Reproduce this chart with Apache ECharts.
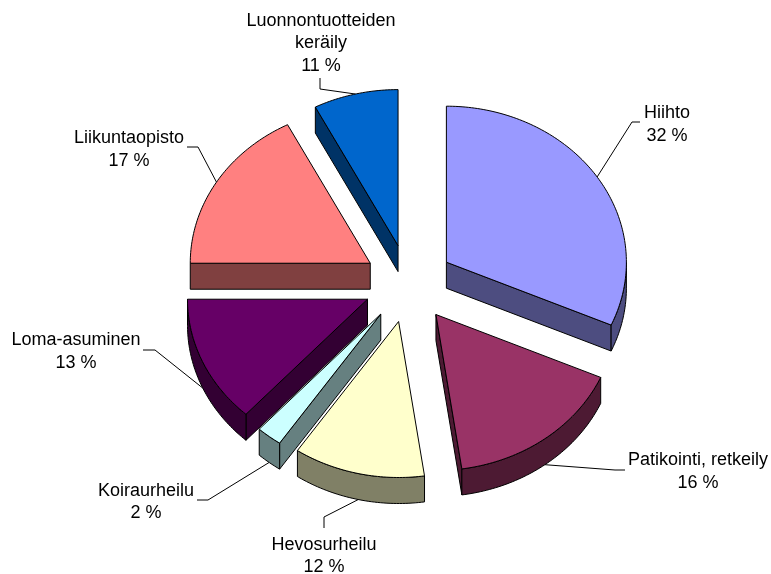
<!DOCTYPE html>
<html>
<head>
<meta charset="utf-8">
<style>html,body{margin:0;padding:0;background:#fff}#c{width:771px;height:574px}</style>
<script src="https://cdn.jsdelivr.net/npm/echarts@6/dist/echarts.min.js"></script>
</head>
<body>
<div id="c"></div>
<script>
// Data
var categories = ['Hiihto', 'Patikointi, retkeily', 'Hevosurheilu', 'Koiraurheilu', 'Loma-asuminen', 'Liikuntaopisto', 'Luonnontuotteiden\nkeräily'];
var sliceValues = [31.6, 16.1, 11.8, 2.3, 13.2, 17.4, 7.6];
var labelPercents = [32, 16, 12, 2, 13, 17, 11];

// Styles
var topColors = ['#9999FF', '#993366', '#FFFFCC', '#CCFFFF', '#660066', '#FF8080', '#0066CC'];
var sideColors = ['#4D4D80', '#4D1A33', '#808066', '#668080', '#330033', '#804040', '#003366'];
var paintOrder = [6, 5, 0, 1, 3, 4, 2];

// Layout
var layout = { cx: 408.7, cy: 283.5, rx: 180, ry: 156, explodeX: 45, explodeY: 39, depth: 26 };
var labelCenters = [[667, 124.5], [698, 471.5], [324, 556], [146, 502], [76, 351.5], [129, 149.5], [321, 43.5]];
var leaderElbows = [
  [[632, 122], [640, 122]],
  [[615, 470], [625, 470]],
  [[324, 517], [324, 528]],
  [[208, 500], [197, 500]],
  [[155, 350], [143, 350]],
  [[198, 147], [187, 147]],
  [[320, 89], [320, 78]]
];

var total = sliceValues.reduce(function (a, b) { return a + b; }, 0);
var starts = [];
sliceValues.reduce(function (acc, v, i) { starts[i] = acc; return acc + v; }, 0);

function renderItem(params, api) {
  var i = params.dataIndex;
  var rank = paintOrder.indexOf(i) + 1;
  var t0 = starts[i] / total * 360;
  var t1 = (starts[i] + api.value(0)) / total * 360;
  var mid = (t0 + t1) / 2;
  var rad = Math.PI / 180;
  var ax = layout.cx + layout.explodeX * Math.sin(mid * rad);
  var ay = layout.cy - layout.explodeY * Math.cos(mid * rad);
  function pt(t, dz) {
    return [ax + layout.rx * Math.sin(t * rad), ay - layout.ry * Math.cos(t * rad) + (dz || 0)];
  }
  var d = layout.depth;
  var arc = [];
  for (var t = t0; t < t1; t += 1) arc.push(pt(t));
  arc.push(pt(t1));
  var stroke = { stroke: '#000', lineWidth: 1, lineJoin: 'round' };
  function poly(points, fill, z2) {
    return {
      type: 'polygon', z2: z2, shape: { points: points },
      style: Object.assign({ fill: fill }, stroke)
    };
  }
  var children = [];
  // leader line (below the pie)
  var front = mid > 90 && mid < 270;
  var from = pt(mid, front ? d : 0);
  children.push({
    type: 'polyline', z2: 0,
    shape: { points: [from].concat(leaderElbows[i]) },
    style: { fill: null, stroke: '#000', lineWidth: 1 }
  });
  var base = rank * 10;
  // radial side walls: only those that face the viewer
  if (Math.sin(t0 * rad) < -1e-6) {
    children.push(poly([[ax, ay], pt(t0), pt(t0, d), [ax, ay + d]], sideColors[i], base));
  }
  if (Math.sin(t1 * rad) > 1e-6) {
    children.push(poly([[ax, ay], pt(t1), pt(t1, d), [ax, ay + d]], sideColors[i], base + 1));
  }
  // outer rim, front half only
  var r0 = Math.max(t0, 90), r1 = Math.min(t1, 270);
  if (r1 > r0) {
    var upper = [], lower = [];
    for (var r = r0; r < r1; r += 1) { upper.push(pt(r)); lower.unshift(pt(r, d)); }
    upper.push(pt(r1)); lower.unshift(pt(r1, d));
    children.push(poly(upper.concat(lower), sideColors[i], base + 2));
  }
  // top face
  children.push(poly([[ax, ay]].concat(arc), topColors[i], base + 3));
  // label
  children.push({
    type: 'text', z2: 200,
    style: {
      x: labelCenters[i][0], y: labelCenters[i][1],
      text: categories[i] + '\n' + labelPercents[i] + ' %',
      fill: '#000', align: 'center', verticalAlign: 'middle',
      font: '18px "Liberation Sans", Arial, sans-serif', lineHeight: 22.5
    }
  });
  return { type: 'group', children: children };
}

var chart = echarts.init(document.getElementById('c'), null, { renderer: 'canvas' });
chart.setOption({
  backgroundColor: '#fff',
  animation: false,
  tooltip: { show: false },
  series: [{
    type: 'custom',
    coordinateSystem: 'none',
    renderItem: renderItem,
    encode: { value: 0 },
    data: sliceValues.map(function (v, i) { return { name: categories[i], value: [v] }; })
  }]
});
</script>
</body>
</html>
